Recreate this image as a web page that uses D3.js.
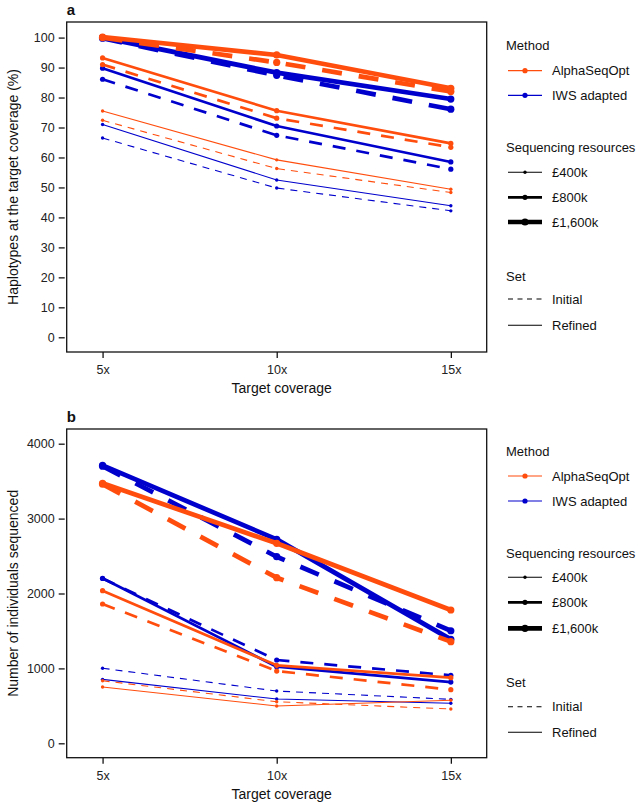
<!DOCTYPE html>
<html>
<head>
<meta charset="utf-8">
<script src="https://cdn.jsdelivr.net/npm/d3@7/dist/d3.min.js"></script>
<style>
body{margin:0;background:#fff;}
text{font-family:"Liberation Sans",Arial,Helvetica,sans-serif;}
</style>
</head>
<body>
<svg id="c" width="638" height="802"></svg>
<script>
// ---------------- data ----------------
const coverage = [5, 10, 15];
const coverageLabels = ["5x", "10x", "15x"];
const methods = ["AlphaSeqOpt", "IWS adapted"];
const resources = ["£400k", "£800k", "£1,600k"];
const sets = ["Initial", "Refined"];

// Panel a: Haplotypes at the target coverage (%)
const hapAlpha400Initial  = [72.4, 56.3, 48.3];
const hapAlpha400Refined  = [75.5, 59.2, 49.4];
const hapAlpha800Initial  = [91.0, 73.1, 63.4];
const hapAlpha800Refined  = [93.2, 75.6, 64.7];
const hapAlpha1600Initial = [100.0, 91.7, 82.0];
const hapAlpha1600Refined = [100.2, 94.2, 83.1];
const hapIWS400Initial    = [66.5, 49.8, 42.2];
const hapIWS400Refined    = [71.0, 52.5, 43.9];
const hapIWS800Initial    = [86.1, 67.4, 56.1];
const hapIWS800Refined    = [89.8, 70.5, 58.5];
const hapIWS1600Initial   = [99.8, 87.4, 76.1];
const hapIWS1600Refined   = [100.0, 88.3, 79.5];

// Panel b: Number of individuals sequenced
const indAlpha400Initial  = [835, 555, 458];
const indAlpha400Refined  = [752, 498, 574];
const indAlpha800Initial  = [1860, 965, 716];
const indAlpha800Refined  = [2038, 1041, 876];
const indAlpha1600Initial = [3460, 2211, 1357];
const indAlpha1600Refined = [3471, 2670, 1780];
const indIWS400Initial    = [1002, 698, 587];
const indIWS400Refined    = [854, 591, 534];
const indIWS800Initial    = [2200, 1112, 908];
const indIWS800Refined    = [2203, 1023, 818];
const indIWS1600Initial   = [3700, 2491, 1503];
const indIWS1600Refined   = [3711, 2723, 1388];

const yTicksA = [0,10,20,30,40,50,60,70,80,90,100];
const yTicksB = [0,1000,2000,3000,4000];

// --------------- build series ---------------
function mk(method, res, set, vals){ return {method, res, set, vals}; }
const seriesA = [
  mk(1,0,0,hapIWS400Initial), mk(1,0,1,hapIWS400Refined),
  mk(1,1,0,hapIWS800Initial), mk(1,1,1,hapIWS800Refined),
  mk(1,2,0,hapIWS1600Initial), mk(1,2,1,hapIWS1600Refined),
  mk(0,0,0,hapAlpha400Initial), mk(0,0,1,hapAlpha400Refined),
  mk(0,1,0,hapAlpha800Initial), mk(0,1,1,hapAlpha800Refined),
  mk(0,2,0,hapAlpha1600Initial), mk(0,2,1,hapAlpha1600Refined)
];
const seriesB = [
  mk(1,0,0,indIWS400Initial), mk(1,0,1,indIWS400Refined),
  mk(1,1,0,indIWS800Initial), mk(1,1,1,indIWS800Refined),
  mk(1,2,0,indIWS1600Initial), mk(1,2,1,indIWS1600Refined),
  mk(0,0,0,indAlpha400Initial), mk(0,0,1,indAlpha400Refined),
  mk(0,1,0,indAlpha800Initial), mk(0,1,1,indAlpha800Refined),
  mk(0,2,0,indAlpha1600Initial), mk(0,2,1,indAlpha1600Refined)
];

// --------------- styles ---------------
const colors = ["#ff4d0d", "#0000cc"];
const widths = [1.1, 2.7, 4.7];
const radii = [1.7, 2.6, 3.6];
const dashes = ["7,6", "13,11", "20,17"];

const svg = d3.select("#c");
const L = 66.7, R = 486.7;

function panel(opts){
  const g = svg.append("g");
  const x = d3.scaleLinear().domain([3.97, 16.03]).range([L, R]);
  const y = d3.scaleLinear().domain(opts.ydom).range([opts.bottom, opts.top]);

  // axes
  const yAxis = d3.axisLeft(y).tickValues(opts.yticks).tickSize(6).tickPadding(4).tickFormat(d3.format("d"));
  const ya = g.append("g").attr("transform", `translate(${L - 2},0)`).call(yAxis);
  const xAxis = d3.axisBottom(x).tickValues(coverage).tickSize(6).tickPadding(7).tickFormat((d,i)=>coverageLabels[i]);
  const xa = g.append("g").attr("transform", `translate(0,${opts.bottom})`).call(xAxis);
  [ya, xa].forEach(a=>{
    a.select(".domain").remove();
    a.selectAll(".tick line").attr("stroke","#000").attr("stroke-width",1.2);
    a.selectAll(".tick text").attr("fill","#222").style("font-size","12.5px")
      .style("font-family","'Liberation Sans',Arial,sans-serif");
  });

  // lines
  const line = d3.line().x((d,i)=>x(coverage[i])).y(d=>y(d));
  opts.series.forEach(s=>{
    g.append("path").datum(s.vals)
      .attr("d", line)
      .attr("fill","none")
      .attr("stroke", colors[s.method])
      .attr("stroke-width", widths[s.res])
      .attr("stroke-dasharray", s.set === 0 ? dashes[s.res] : null)
      .attr("stroke-linejoin","round");
    g.selectAll(null).data(s.vals).enter().append("circle")
      .attr("cx",(d,i)=>x(coverage[i])).attr("cy",d=>y(d))
      .attr("r", radii[s.res]).attr("fill", colors[s.method]);
  });

  // frame
  g.append("rect").attr("x",L).attr("y",opts.top).attr("width",R-L).attr("height",opts.bottom-opts.top)
    .attr("fill","none").attr("stroke","#111").attr("stroke-width",1.3);

  // labels
  g.append("text").attr("x",L).attr("y",opts.top-7).text(opts.letter)
    .style("font-weight","bold").style("font-size","15px").attr("fill","#111");
  g.append("text").attr("x",(L+R)/2 + 5).attr("y",opts.bottom+41).attr("text-anchor","middle")
    .style("font-size","14px").attr("fill","#111").text("Target coverage");
  g.append("text").attr("transform",`translate(18,${(opts.top+opts.bottom)/2}) rotate(-90)`)
    .attr("text-anchor","middle").style("font-size","14px").attr("fill","#111").text(opts.ytitle);

  // legend
  const lg = g.append("g");
  const lx0 = 508, lx1 = 542, tx = 552, hx = 506;
  const ly = opts.legendY;
  const fs = "13px";
  lg.append("text").attr("x",hx).attr("y",ly.method+4.5).style("font-size",fs).text("Method");
  methods.forEach((m,i)=>{
    const yy = ly.m[i];
    lg.append("line").attr("x1",lx0).attr("x2",lx1).attr("y1",yy).attr("y2",yy).attr("stroke",colors[i]).attr("stroke-width",1.2);
    lg.append("circle").attr("cx",(lx0+lx1)/2).attr("cy",yy).attr("r",2.6).attr("fill",colors[i]);
    lg.append("text").attr("x",tx).attr("y",yy+4.5).style("font-size",fs).text(m);
  });
  lg.append("text").attr("x",hx).attr("y",ly.res+4.5).style("font-size",fs).text("Sequencing resources");
  resources.forEach((r,i)=>{
    const yy = ly.r[i];
    lg.append("line").attr("x1",lx0).attr("x2",lx1).attr("y1",yy).attr("y2",yy).attr("stroke","#000").attr("stroke-width",widths[i]);
    lg.append("circle").attr("cx",(lx0+lx1)/2).attr("cy",yy).attr("r",radii[i]).attr("fill","#000");
    lg.append("text").attr("x",tx).attr("y",yy+4.5).style("font-size",fs).text(r);
  });
  lg.append("text").attr("x",hx).attr("y",ly.set+4.5).style("font-size",fs).text("Set");
  sets.forEach((s,i)=>{
    const yy = ly.s[i];
    lg.append("line").attr("x1",lx0).attr("x2",lx1).attr("y1",yy).attr("y2",yy).attr("stroke","#000").attr("stroke-width",1.1)
      .attr("stroke-dasharray", i===0 ? "5,4.5" : null);
    lg.append("text").attr("x",tx).attr("y",yy+4.5).style("font-size",fs).text(s);
  });
  lg.selectAll("text").attr("fill","#111");
}

panel({
  top:22, bottom:352, ydom:[-4.9,105.2], yticks:yTicksA, series:seriesA, letter:"a",
  ytitle:"Haplotypes at the target coverage (%)",
  legendY:{method:45, m:[70.7,95.3], res:147.7, r:[172.3,197.3,222], set:276, s:[299,325.3]}
});
panel({
  top:429, bottom:757.7, ydom:[-192,4196], yticks:yTicksB, series:seriesB, letter:"b",
  ytitle:"Number of individuals sequenced",
  legendY:{method:451.7, m:[476,501], res:553.3, r:[577.3,602.3,628.3], set:682.3, s:[706.7,732.3]}
});
</script>
</body>
</html>
